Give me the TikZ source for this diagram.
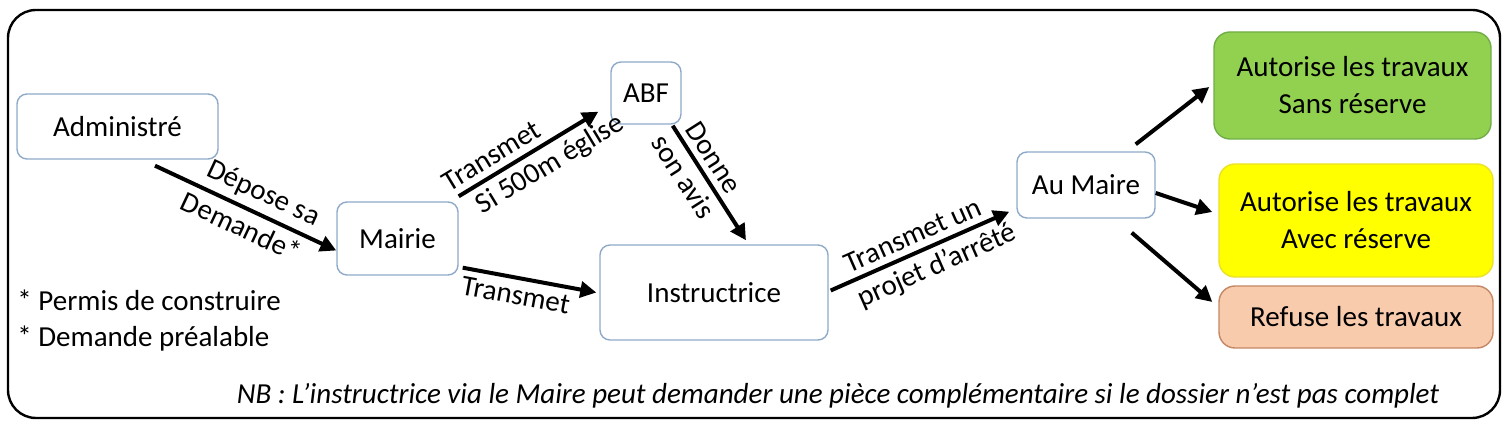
\documentclass[tikz,border=0pt]{standalone}
\usepackage{fontspec}
\setmainfont{Carlito}
\usepackage{xcolor}
\usepackage{tikz}
\usetikzlibrary{positioning, arrows.meta}

\definecolor{boxline}{RGB}{143,170,200}
\definecolor{okfill}{RGB}{146,208,80}
\definecolor{okline}{RGB}{112,173,71}
\definecolor{resfill}{RGB}{255,255,0}
\definecolor{resline}{RGB}{235,225,40}
\definecolor{nofill}{RGB}{248,203,173}
\definecolor{noline}{RGB}{196,135,100}

\begin{document}
\begin{tikzpicture}[x=0.5pt, y=-0.5pt,
       font=\fontsize{14.5}{18.5}\selectfont,
       box/.style={draw=boxline, line width=0.7pt, rounded corners=5pt, fill=white},
       verdict/.style={line width=0.7pt, rounded corners=8pt, align=center},
       arr/.style={-{Triangle[length=8pt,width=8pt]}, line width=2pt},
       lbl/.style={sloped, inner sep=3pt}]
       \useasboundingbox (0,0) rectangle (1510,426);
       \draw[line width=1.2pt, rounded corners=14pt] (8,10) rectangle (1500,418);

       \node[box, minimum width=100.5pt, minimum height=32.5pt] (adm) at (117.5,126.5) {Administré};
       \node[box, minimum width=60.5pt, minimum height=36.5pt] (mairie) at (397.5,238.5) {Mairie};
       \node[box, minimum width=35pt, minimum height=31pt] (abf) at (646,93) {ABF};
       \node[box, minimum width=114pt, minimum height=47.5pt] (instr) at (714,292.5) {Instructrice};
       \node[box, minimum width=69pt, minimum height=33pt] (maire) at (1086,185) {Au Maire};

       \node[verdict, draw=okline, fill=okfill, minimum width=138.5pt, minimum height=53.5pt] (sans) at (1352.5,85.5) {Autorise les travaux\\Sans réserve};
       \node[verdict, draw=resline, fill=resfill, minimum width=137pt, minimum height=56.5pt] (avec) at (1356,220.5) {Autorise les travaux\\Avec réserve};
       \node[verdict, draw=noline, fill=nofill, minimum width=137pt, minimum height=31pt] (refus) at (1356,317) {Refuse les travaux};

       % circuit de la demande
       \draw[arr] ([shift={(37.5,6)}]adm.south) -- ([shift={(0,12)}]mairie.west)
            node[lbl, above, pos=.55] {Dépose sa}
            node[lbl, below, pos=.52] {Demande*};
       \draw[arr] ([shift={(0,-5)}]mairie.north east) -- ([shift={(-12,-13)}]abf.south west)
            node[lbl, above, pos=.3] {Transmet}
            node[lbl, below, pos=.58] {Si 500m église};
       \draw[arr] ([shift={(4,-8)}]mairie.south east) -- ([shift={(-3,0)}]instr.west)
            node[lbl, below, pos=.42] {Transmet};
       \draw[arr] ([shift={(-9,1)}]abf.south east) -- ([shift={(32,-4)}]instr.north)
            node[lbl, above, pos=.36] {Donne}
            node[lbl, below, pos=.36] {son avis};
       \draw[arr] ([shift={(2,-2)}]instr.east) -- ([shift={(-7,-7)}]maire.south west)
            node[lbl, above, pos=.5] {Transmet un}
            node[lbl, below, pos=.55] {projet d’arrêté};

       \draw[arr] ([shift={(-20,-7)}]maire.north east) -- ([shift={(-4,1.5)}]sans.west);
       \draw[arr] ([shift={(0,8)}]maire.east) -- ([shift={(-6,-8.5)}]avec.west);
       \draw[arr] ([shift={(-24,14)}]maire.south east) -- ([shift={(-6,-15)}]refus.west);

       \node[anchor=west, inner sep=0pt] (pc) at (17,300) {* Permis de construire};
       \node[anchor=west, inner sep=0pt] (dp) at (17,339) {* Demande préalable};
       \node[font=\fontsize{14.5}{18.5}\selectfont\itshape] (nb) at (838,396) {NB : L’instructrice via le Maire peut demander une pièce complémentaire si le dossier n’est pas complet};
    \end{tikzpicture}
\end{document}
